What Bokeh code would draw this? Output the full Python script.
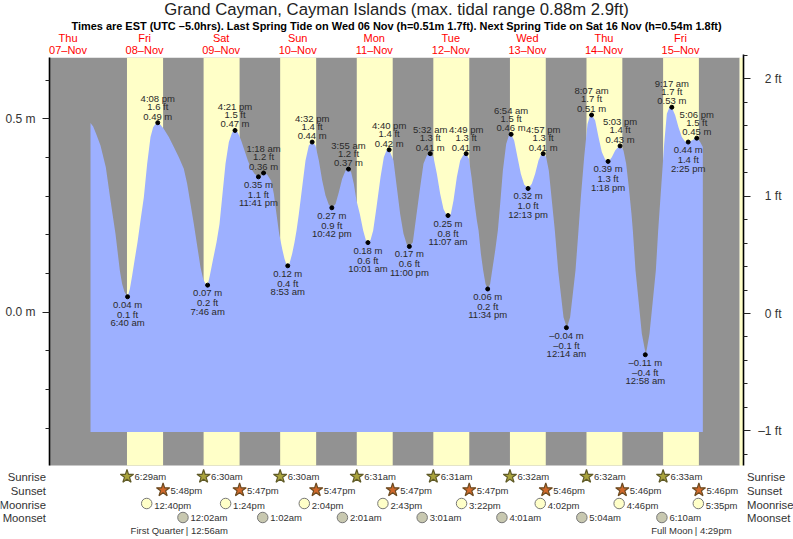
from bokeh.plotting import figure
from bokeh.embed import file_html
from bokeh.resources import INLINE
from bokeh.models import Label, Range1d, LinearAxis, FixedTicker, LinearScale

TITLE = "Grand Cayman, Cayman Islands (max. tidal range 0.88m 2.9ft)"
SUBTITLE = ("Times are EST (UTC \u20135.0hrs). Last Spring Tide on Wed 06 Nov (h=0.51m 1.7ft). "
            "Next Spring Tide on Sat 16 Nov (h=0.54m 1.8ft)")
WEEKDAYS = ["Thu", "Fri", "Sat", "Sun", "Mon", "Tue", "Wed", "Thu", "Fri"]
DATES = ["07\u2013Nov", "08\u2013Nov", "09\u2013Nov", "10\u2013Nov", "11\u2013Nov",
         "12\u2013Nov", "13\u2013Nov", "14\u2013Nov", "15\u2013Nov"]
DAY_NUMS = [7, 8, 9, 10, 11, 12, 13, 14, 15]

# high / low tide table
TIDE_DAY = [8, 8, 9, 9, 9, 10, 10, 10, 10, 11, 11, 11, 11, 12, 12, 12, 12, 13, 13, 13,
            14, 14, 14, 14, 15, 15, 15, 15]
TIDE_TIME = ["6:40 am", "4:08 pm", "7:46 am", "4:21 pm", "11:41 pm", "1:18 am", "8:53 am",
             "4:32 pm", "10:42 pm", "3:55 am", "10:01 am", "4:40 pm", "11:00 pm", "5:32 am",
             "11:07 am", "4:49 pm", "11:34 pm", "6:54 am", "12:13 pm", "4:57 pm", "12:14 am",
             "8:07 am", "1:18 pm", "5:03 pm", "12:58 am", "9:17 am", "2:25 pm", "5:06 pm"]
TIDE_M = [0.04, 0.49, 0.07, 0.47, 0.35, 0.36, 0.12, 0.44, 0.27, 0.37, 0.18, 0.42, 0.17, 0.41,
          0.25, 0.41, 0.06, 0.46, 0.32, 0.41, -0.04, 0.51, 0.39, 0.43, -0.11, 0.53, 0.44, 0.45]
TIDE_FT = [0.1, 1.6, 0.2, 1.5, 1.1, 1.2, 0.4, 1.4, 0.9, 1.2, 0.6, 1.4, 0.6, 1.3,
           0.8, 1.3, 0.2, 1.5, 1.0, 1.3, -0.1, 1.7, 1.3, 1.4, -0.4, 1.7, 1.4, 1.5]
TIDE_HIGH = [0, 1, 0, 1, 0, 1, 0, 1, 0, 1, 0, 1, 0, 1, 0, 1, 0, 1, 0, 1, 0, 1, 0, 1, 0, 1, 0, 1]

# water level: hours after 8 Nov 00:00, metres
CURVE_H = [-4.95, -4.12, -3.07, -1.82, -0.15, 1.32, 2.88, 4.24, 4.97, 5.71, 6.67, 7.38, 8.11, 8.94,
           9.78, 10.72, 11.77, 12.81, 13.86, 14.69, 15.42, 16.13, 16.99, 18.04, 19.6, 21.17, 22.74,
           24.3, 25.35, 26.4, 27.44, 28.49, 29.53, 30.37, 30.99, 31.77, 32.46, 33.5, 34.55, 35.49,
           36.32, 37.37, 38.42, 39.46, 40.35, 41.24, 42.28, 43.33, 44.37, 45.42, 46.46, 47.68, 48.5,
           49.3, 50.42, 51.68, 52.52, 53.35, 54.19, 55.13, 55.86, 56.38, 56.88, 57.4, 58.26, 59.0,
           59.63, 60.36, 61.4, 62.45, 63.49, 64.53, 65.58, 66.63, 67.67, 68.72, 69.76, 70.7, 71.85,
           72.89, 73.94, 74.98, 75.92, 76.76, 77.59, 78.43, 79.48, 80.53, 81.36, 82.02, 82.83, 83.66,
           84.71, 85.96, 87.0, 87.84, 88.67, 90.03, 91.07, 92.12, 93.17, 94.21, 95.0, 96.09, 97.14,
           98.39, 99.43, 100.48, 101.53, 102.57, 103.62, 104.66, 105.7, 106.54, 107.12, 108.0, 108.84,
           109.88, 110.93, 111.97, 112.82, 113.66, 114.5, 115.33, 116.17, 116.7, 117.43, 118.15,
           118.88, 119.6, 120.33, 120.96, 121.9, 122.74, 123.47, 124.31, 125.35, 126.19, 126.92,
           127.86, 128.9, 129.95, 130.99, 132.25, 133.39, 134.44, 135.48, 136.32, 137.06, 137.89,
           138.73, 139.56, 140.61, 141.65, 142.49, 143.33, 144.37, 145.4, 146.24, 147.08, 148.02,
           148.76, 149.8, 150.85, 151.68, 152.2, 153.25, 154.29, 155.34, 156.38, 157.43, 158.47,
           159.52, 160.57, 161.2, 162.13, 162.97, 163.8, 164.64, 165.06, 165.9, 166.84, 167.88,
           169.13, 170.28, 171.33, 172.27, 173.0, 173.94, 174.88, 175.72, 176.55, 177.28, 178.33,
           179.37, 180.42, 181.47, 182.51, 183.56, 184.6, 185.23, 186.17, 187.0]
CURVE_M = [0.489, 0.48, 0.459, 0.431, 0.375, 0.289, 0.203, 0.108, 0.073, 0.052, 0.04, 0.06, 0.095, 0.138,
           0.181, 0.237, 0.297, 0.384, 0.453, 0.478, 0.487, 0.49, 0.485, 0.474, 0.453, 0.427, 0.401,
           0.371, 0.332, 0.28, 0.228, 0.172, 0.116, 0.086, 0.075, 0.07, 0.095, 0.138, 0.181, 0.228,
           0.297, 0.384, 0.44, 0.465, 0.47, 0.465, 0.444, 0.418, 0.392, 0.371, 0.358, 0.35, 0.353,
           0.36, 0.356, 0.34, 0.306, 0.254, 0.203, 0.164, 0.138, 0.125, 0.12, 0.125, 0.151, 0.181,
           0.211, 0.254, 0.323, 0.392, 0.431, 0.44, 0.431, 0.392, 0.341, 0.302, 0.278, 0.27, 0.28,
           0.31, 0.345, 0.366, 0.37, 0.362, 0.332, 0.289, 0.254, 0.211, 0.187, 0.18, 0.187, 0.211,
           0.272, 0.349, 0.401, 0.418, 0.42, 0.392, 0.323, 0.254, 0.203, 0.175, 0.17, 0.181, 0.246,
           0.323, 0.384, 0.405, 0.41, 0.401, 0.358, 0.306, 0.267, 0.253, 0.25, 0.254, 0.289,
           0.349, 0.392, 0.407, 0.41, 0.397, 0.349, 0.289, 0.237, 0.211, 0.151, 0.108,
           0.073, 0.06, 0.073, 0.108, 0.159, 0.211, 0.28, 0.366, 0.435, 0.457, 0.46,
           0.444, 0.401, 0.358, 0.33, 0.32, 0.332, 0.358, 0.392, 0.408, 0.41, 0.401,
           0.366, 0.297, 0.211, 0.108, 0.047, -0.013, -0.04, -0.013, 0.047, 0.108, 0.211,
           0.297, 0.401, 0.487, 0.509, 0.51, 0.496, 0.453, 0.414, 0.395, 0.39, 0.401,
           0.418, 0.428, 0.43, 0.418, 0.384, 0.323, 0.254, 0.211, 0.108, 0.03, -0.056,
           -0.11, -0.056, 0.03, 0.108, 0.211, 0.323, 0.435, 0.513, 0.53, 0.53, 0.509,
           0.478, 0.453, 0.441, 0.44, 0.444, 0.449, 0.45, 0.44, 0.427]
WATER_FLOOR = -0.31

# sun and moon
SUN_DAY = [8, 9, 10, 11, 12, 13, 14, 15]
SUNRISE = ["6:29am", "6:30am", "6:30am", "6:31am", "6:31am", "6:32am", "6:32am", "6:33am"]
SUNSET = ["5:48pm", "5:47pm", "5:47pm", "5:47pm", "5:47pm", "5:46pm", "5:46pm", "5:46pm"]
NEXT_SUNRISE = "6:33am"
MOONRISE_DAY = [8, 9, 10, 11, 12, 13, 14, 15]
MOONRISE = ["12:40pm", "1:24pm", "2:04pm", "2:43pm", "3:22pm", "4:02pm", "4:46pm", "5:35pm"]
MOONSET_DAY = [9, 10, 11, 12, 13, 14, 15]
MOONSET = ["12:02am", "1:02am", "2:01am", "3:01am", "4:01am", "5:04am", "6:10am"]
PHASE_NAME = ["First Quarter", "Full Moon"]
PHASE_DAY = [9, 15]
PHASE_TIME = ["12:56am", "4:29pm"]
ROW_NAMES = ["Sunrise", "Sunset", "Moonrise", "Moonset"]

M_TICKS = [0.0, 0.5]
M_MINOR = [-0.3, -0.2, -0.1, 0.1, 0.2, 0.3, 0.4, 0.6]
M_LABELS = ["0.0 m", "0.5 m"]
FT_TICKS = [-1, 0, 1, 2]
FT_MINOR = [-1.2, -0.8, -0.6, -0.4, -0.2, 0.2, 0.4, 0.6, 0.8, 1.2, 1.4, 1.6, 1.8, 2.2]
FT_LABELS = ["\u20131 ft", "0 ft", "1 ft", "2 ft"]

GRAY, YELLOW, BLUE = "#929292", "#FFFFC8", "#9DB0FF"
INK = "#2a2a2a"
FONT = "Liberation Sans"


def hours(day, t):
    t = t.replace(" ", "")
    hh, mm = t[:-2].split(":")
    h = int(hh) % 12 + (12 if t.endswith("pm") else 0)
    return (day - 8) * 24 + h + int(mm) / 60


# page-pixel layout -> data conversions
def hx(px):
    return (px - 105.8) / 3.19


def my(py):
    return (311.7 - py) / 386.7


def fy(py):
    return (313 - py) / 117.4


W, H = 793, 539
BAND_L, AXIS_R, BAND_T, BAND_B = 49, 743, 57.3, 465

p = figure(width=W, height=H, x_range=Range1d(hx(0), hx(W)), y_range=Range1d(my(H), my(0)),
           output_backend="svg", toolbar_location=None, x_axis_location=None, y_axis_location=None,
           min_border_left=0, min_border_right=0, min_border_top=0, min_border_bottom=0,
           outline_line_color=None)
p.xgrid.visible = False
p.ygrid.visible = False
p.extra_y_ranges = {"ft": Range1d(fy(H), fy(0))}
p.extra_y_scales = {"ft": LinearScale()}


def labels(xs, ys, texts, size, color=INK, align="center", y_offset=0, style="normal", x_offset=0,
           **kw):
    for x, y, t in zip(xs, ys, texts):
        p.add_layout(Label(x=x, y=y, text=t, text_font=FONT, text_font_size=size,
                           text_color=color, text_align=align, text_baseline="middle",
                           x_offset=x_offset, y_offset=y_offset, text_font_style=style, **kw))


# day / night bands
rise_h = [hours(d, t) for d, t in zip(SUN_DAY, SUNRISE)]
set_h = [hours(d, t) for d, t in zip(SUN_DAY, SUNSET)]
last_rise = hours(16, NEXT_SUNRISE)
band_top, band_bottom = my(BAND_T), my(BAND_B)
p.quad(left=[hx(BAND_L)], right=[last_rise], top=[band_top], bottom=[band_bottom],
       fill_color=GRAY, line_color=None)
p.quad(left=rise_h + [last_rise], right=set_h + [hx(AXIS_R)], top=band_top, bottom=band_bottom,
       fill_color=YELLOW, line_color=None)

# water
p.varea(x=CURVE_H, y1=CURVE_M, y2=[WATER_FLOOR] * len(CURVE_H), fill_color=BLUE)


def styled(ax):
    ax.axis_line_color = "black"
    ax.axis_line_width = 1.6
    ax.major_tick_line_color = "#222222"
    ax.minor_tick_line_color = "#222222"
    ax.major_tick_out = 7
    ax.major_tick_in = 0
    ax.minor_tick_out = 4
    ax.minor_tick_in = 0
    ax.major_label_text_font = FONT
    ax.major_label_text_font_size = "12px"
    ax.major_label_text_color = "#333333"


left = LinearAxis(ticker=FixedTicker(ticks=M_TICKS, minor_ticks=M_MINOR),
                  major_label_overrides=dict(zip(M_TICKS, M_LABELS)),
                  bounds=(band_bottom, band_top), fixed_location=hx(BAND_L))
styled(left)
left.major_label_standoff = 7
p.add_layout(left, "left")
right = LinearAxis(y_range_name="ft", ticker=FixedTicker(ticks=FT_TICKS, minor_ticks=FT_MINOR),
                   major_label_overrides={t: "" for t in FT_TICKS},
                   bounds=(fy(BAND_B), fy(54)), fixed_location=hx(AXIS_R))
styled(right)
p.add_layout(right, "right")
labels([hx(781)] * 4, FT_TICKS, FT_LABELS, "12px", color="#333333", align="right", y_range_name="ft")

# extremes
tide_h = [hours(d, t) for d, t in zip(TIDE_DAY, TIDE_TIME)]
p.scatter(tide_h, TIDE_M, size=4, color="black", marker="circle")


def dash(s):
    return s.replace("-", "\u2013")


for high in (1, 0):
    idx = [i for i, k in enumerate(TIDE_HIGH) if k == high]
    xs = [tide_h[i] for i in idx]
    ys = [TIDE_M[i] for i in idx]
    m_t = [dash(f"{TIDE_M[i]:.2f} m") for i in idx]
    f_t = [dash(f"{TIDE_FT[i]:.1f} ft") for i in idx]
    c_t = [TIDE_TIME[i] for i in idx]
    offs = (6.5, 16, 24) if high else (-7.5, -17.5, -26)
    labels(xs, ys, m_t, "9.5px", y_offset=offs[0])
    labels(xs, ys, f_t, "9.5px", y_offset=offs[1])
    labels(xs, ys, c_t, "9.5px", y_offset=offs[2])

# headings
noon = [hours(d, "12:00pm") for d in DAY_NUMS]
labels(noon, [my(37.7)] * 9, WEEKDAYS, "11px", color="#FF0000")
labels(noon, [my(49.3)] * 9, DATES, "11px", color="#FF0000")
labels([hx(396)], [my(8.5)], [TITLE], "16.7px", color="#222222")
labels([hx(396)], [my(25)], [SUBTITLE], "10.95px", color="black", style="bold")

# sun and moon rows
ROW_Y = [476, 489.5, 503, 517]
TEXT_Y = [476.3, 490.3, 504.5, 517]
mrise_h = [hours(d, t) for d, t in zip(MOONRISE_DAY, MOONRISE)]
mset_h = [hours(d, t) for d, t in zip(MOONSET_DAY, MOONSET)]
p.scatter(rise_h, [my(ROW_Y[0])] * 8, marker="star", size=14, fill_color="#A9A33C", line_color="#5f5a28", line_width=1.2)
p.scatter(set_h, [my(ROW_Y[1])] * 8, marker="star", size=14, fill_color="#D0682A", line_color="#6b4a20", line_width=1.2)
p.scatter(mrise_h, [my(ROW_Y[2])] * 8, marker="circle", size=10.5, fill_color="#FFFFC8", line_color="#777777", line_width=1)
p.scatter(mset_h, [my(ROW_Y[3])] * 7, marker="circle", size=10.5, fill_color="#C8C8B0", line_color="#777777", line_width=1)

labels(rise_h, [my(TEXT_Y[0])] * 8, SUNRISE, "9.5px", color="#333333", align="left", x_offset=7.5)
labels(set_h, [my(TEXT_Y[1])] * 8, SUNSET, "9.5px", color="#333333", align="left", x_offset=7.5)
labels(mrise_h, [my(TEXT_Y[2])] * 8, MOONRISE, "9.5px", color="#333333", align="left", x_offset=7.5)
labels(mset_h, [my(TEXT_Y[3])] * 7, MOONSET, "9.5px", color="#333333", align="left", x_offset=7.5)

row_text_y = [my(y) for y in TEXT_Y]
labels([hx(45.5)] * 4, row_text_y, ROW_NAMES, "11.3px", color="#333333", align="right")
labels([hx(746.5)] * 4, row_text_y, ROW_NAMES, "11.3px", color="#333333", align="left")

phase_h = [hours(d, t) for d, t in zip(PHASE_DAY, PHASE_TIME)]
phase_y = [my(530.3)] * 2
labels([h - 0.6 for h in phase_h], phase_y, PHASE_NAME, "9.5px", color="#333333", align="right")
labels(phase_h, phase_y, [f"| {t}" for t in PHASE_TIME], "9.5px", color="#333333", align="left")

open("out.html", "w").write(file_html(p, INLINE))
